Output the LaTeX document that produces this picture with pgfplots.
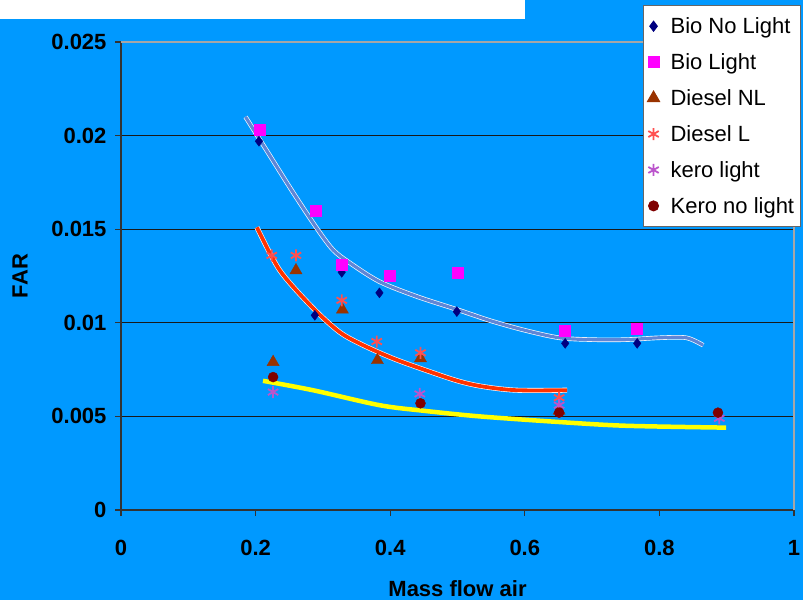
\documentclass[border=0pt]{standalone}
\usepackage{fontspec}
\setmainfont{Liberation Sans}
\usepackage{pgfplots}
\pgfplotsset{compat=1.18}
\definecolor{bg}{HTML}{0099FF}
\definecolor{bionl}{HTML}{000080}
\definecolor{biol}{HTML}{FF00FF}
\definecolor{dnl}{HTML}{993300}
\definecolor{dl}{HTML}{FF5050}
\definecolor{kl}{HTML}{BB55CC}
\definecolor{knl}{HTML}{800000}
\definecolor{tblue}{HTML}{5F86D6}
\definecolor{tred}{HTML}{FF3300}
\definecolor{tyel}{HTML}{FFFF00}
\begin{document}
\begin{tikzpicture}[x=1pt,y=1pt]
\path[use as bounding box] (0,0) rectangle (803,600);
\clip (0,0) rectangle (803,600);
\fill[bg] (0,0) rectangle (803,600);
\fill[white] (0,581) rectangle (525,600);
\begin{axis}[
  at={(121pt,90pt)}, anchor=south west,
  scale only axis, width=673pt, height=468pt,
  xmin=0, xmax=1, ymin=0, ymax=0.025,
  xtick={0,0.2,0.4,0.6,0.8,1},
  xticklabels={0,0.2,0.4,0.6,0.8,1},
  ytick={0,0.005,0.01,0.015,0.02,0.025},
  yticklabels={0,0.005,0.01,0.015,0.02,0.025},
  scaled y ticks=false,
  axis x line*=bottom, axis y line*=left,
  axis line style={draw=black!80, line width=1.4pt, -},
  tick align=outside, major tick length=6pt,
  tick style={draw=black!80, line width=1.2pt},
  ymajorgrids, grid style={draw=black!90, line width=1.3pt},
  ticklabel style={font=\fontsize{22}{24}\selectfont\bfseries},
  xticklabel style={yshift=-21pt},
  yticklabel style={xshift=-5pt},
  xlabel={Mass flow air}, ylabel={FAR},
  label style={font=\fontsize{22}{24}\selectfont\bfseries},
  xlabel style={yshift=-18pt},
  ylabel style={yshift=17pt},
  legend style={at={(0.7756,1.0791)}, anchor=north west,
    draw=black!60, line width=1pt, fill=white,
    font=\fontsize{22}{24}\selectfont, row sep=14.5pt,
    inner xsep=4pt, inner ysep=10pt,
    /tikz/every odd column/.append style={column sep=9pt}},
  legend cell align=left,
  clip=false,
]
% trend lines
\addplot[forget plot, white, line width=4.5pt, smooth] coordinates {(0.185,0.0210)(0.22,0.0190)(0.255,0.0170)(0.29,0.0151)(0.315,0.0139)(0.34,0.0132)(0.384,0.0122)(0.44,0.0114)(0.5,0.0107)(0.55,0.0101)(0.6,0.0096)(0.651,0.0092)(0.7,0.0091)(0.75,0.0091)(0.8,0.0092)(0.84,0.0092)(0.865,0.0088)};
\addplot[forget plot, tblue, line width=3.2pt, smooth] coordinates {(0.185,0.0210)(0.22,0.0190)(0.255,0.0170)(0.29,0.0151)(0.315,0.0139)(0.34,0.0132)(0.384,0.0122)(0.44,0.0114)(0.5,0.0107)(0.55,0.0101)(0.6,0.0096)(0.651,0.0092)(0.7,0.0091)(0.75,0.0091)(0.8,0.0092)(0.84,0.0092)(0.865,0.0088)};
\addplot[forget plot, white, line width=5pt, smooth] coordinates {(0.202,0.0151)(0.236,0.0128)(0.285,0.0108)(0.325,0.0095)(0.36,0.0088)(0.404,0.0081)(0.45,0.0075)(0.5,0.0069)(0.537,0.0066)(0.587,0.0064)(0.663,0.0064)};
\addplot[forget plot, tred, line width=3.8pt, smooth] coordinates {(0.202,0.0151)(0.236,0.0128)(0.285,0.0108)(0.325,0.0095)(0.36,0.0088)(0.404,0.0081)(0.45,0.0075)(0.5,0.0069)(0.537,0.0066)(0.587,0.0064)(0.663,0.0064)};
\addplot[forget plot, tyel, line width=4.5pt, smooth] coordinates {(0.211,0.0069)(0.285,0.0064)(0.384,0.0056)(0.45,0.0053)(0.533,0.0050)(0.651,0.0047)(0.75,0.0045)(0.899,0.0044)};
% data
\addplot[only marks, mark=diamond*, mark size=5pt, draw=bionl, fill=bionl] coordinates {(0.205,0.0197)(0.288,0.0104)(0.328,0.0127)(0.384,0.0116)(0.499,0.0106)(0.66,0.0089)(0.767,0.0089)};
\addlegendentry{Bio No Light}
\addplot[only marks, mark=square*, mark size=5.5pt, draw=biol, fill=biol] coordinates {(0.206,0.0203)(0.29,0.0160)(0.328,0.0131)(0.399,0.0125)(0.5,0.0127)(0.659,0.0096)(0.767,0.0097)};
\addlegendentry{Bio Light}
\addplot[only marks, mark=triangle*, mark size=7pt, draw=dnl, fill=dnl] coordinates {(0.226,0.0079)(0.26,0.0128)(0.329,0.0107)(0.381,0.0080)(0.445,0.0081)(0.651,0.0053)};
\addlegendentry{Diesel NL}
\addplot[only marks, mark=asterisk, mark size=6pt, draw=dl, line width=1.8pt] coordinates {(0.224,0.0136)(0.26,0.0136)(0.328,0.0112)(0.38,0.0090)(0.445,0.0084)(0.651,0.0060)};
\addlegendentry{Diesel L}
\addplot[only marks, mark=asterisk, mark size=6pt, draw=kl, line width=1.8pt] coordinates {(0.226,0.0063)(0.444,0.0062)(0.651,0.0056)(0.889,0.0049)};
\addlegendentry{kero light}
\addplot[only marks, mark=*, mark size=5pt, draw=knl, fill=knl] coordinates {(0.226,0.0071)(0.445,0.0057)(0.651,0.0052)(0.887,0.0052)};
\addlegendentry{Kero no light}
\draw[draw=black!35, line width=1.4pt] (rel axis cs:0,1) -- (rel axis cs:1,1) -- (rel axis cs:1,0);
\end{axis}
\end{tikzpicture}
\end{document}
